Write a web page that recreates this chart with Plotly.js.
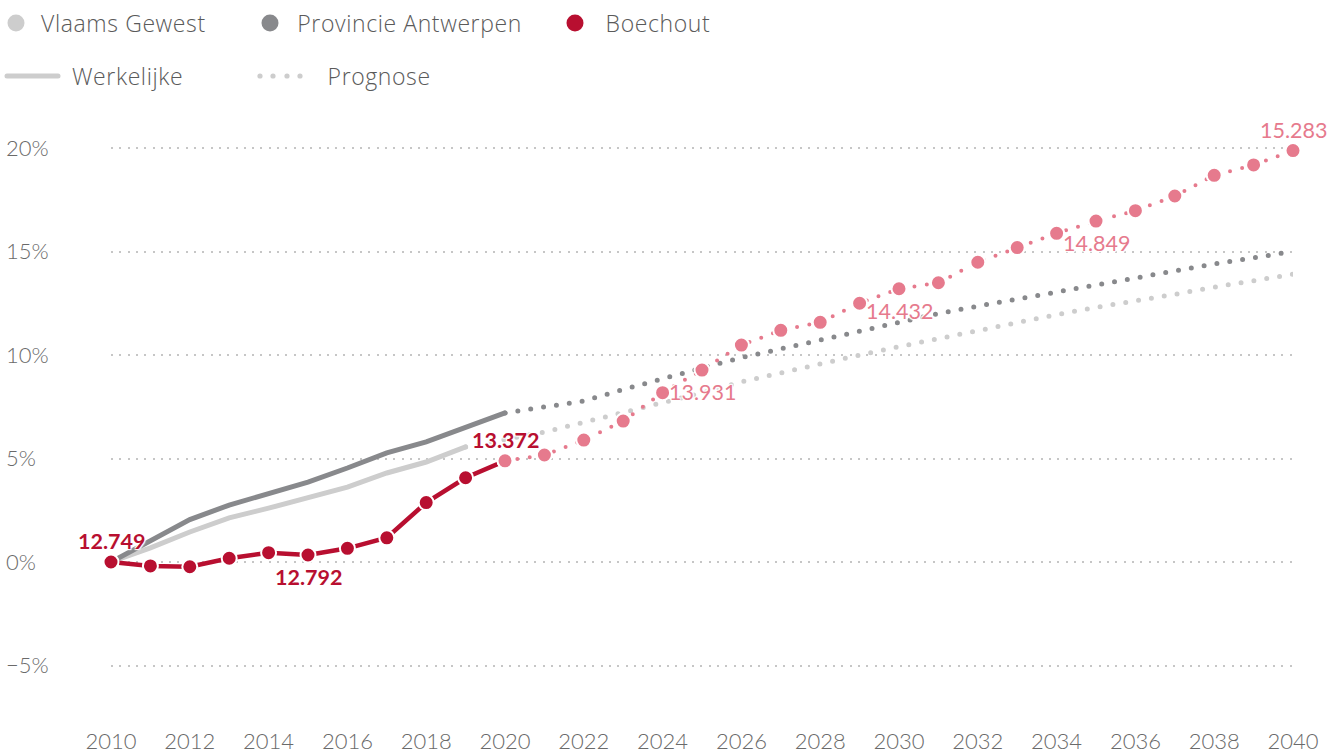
<!DOCTYPE html>
<html><head><meta charset="utf-8">
<script src="https://cdn.plot.ly/plotly-3.0.1.min.js"></script>
<style>html,body{margin:0;padding:0;background:#fff}#chart{width:1339px;height:754px}</style>
</head><body><div id="chart"></div>
<script>
// ---------- DATA ----------
const seriesNames = ['Vlaams Gewest', 'Provincie Antwerpen', 'Boechout'];
const styleNames = ['Werkelijke', 'Prognose'];

const vlaamsActualYears = [2010,2011,2012,2013,2014,2015,2016,2017,2018,2019];
const vlaamsActual = [0, 0.68, 1.45, 2.13, 2.6, 3.14, 3.62, 4.3, 4.83, 5.56];
const vlaamsPrognoseYears = [2019,2020,2021,2022,2023,2024,2025,2026,2027,2028,2029,2030,2031,2032,2033,2034,2035,2036,2037,2038,2039,2040];
const vlaamsPrognose = [5.56, 5.92, 6.28, 6.75, 7.22, 7.67, 8.17, 8.7, 9.14, 9.59, 10.0, 10.4, 10.8, 11.2, 11.6, 11.95, 12.3, 12.6, 12.93, 13.28, 13.57, 13.9];

const actualYears = [2010,2011,2012,2013,2014,2015,2016,2017,2018,2019,2020];
const prognoseYears = [2020,2021,2022,2023,2024,2025,2026,2027,2028,2029,2030,2031,2032,2033,2034,2035,2036,2037,2038,2039,2040];

const provActual = [0, 1.0, 2.05, 2.75, 3.29, 3.86, 4.54, 5.27, 5.80, 6.47, 7.20];
const provPrognose = [7.2, 7.5, 7.78, 8.33, 8.88, 9.37, 9.87, 10.3, 10.7, 11.13, 11.55, 12.0, 12.36, 12.7, 13.05, 13.4, 13.77, 14.1, 14.4, 14.7, 15.0];

const boechoutActual = [0, -0.19, -0.23, 0.18, 0.45, 0.337, 0.66, 1.17, 2.87, 4.07, 4.887];
const boechoutPrognose = [4.887, 5.17, 5.89, 6.81, 8.18, 9.271, 10.48, 11.19, 11.58, 12.5, 13.201, 13.49, 14.48, 15.19, 15.88, 16.472, 16.97, 17.68, 18.68, 19.18, 19.876];

// population labels for Boechout
const labelYears = [2010, 2015, 2020, 2025, 2030, 2035, 2040];
const labelTexts = ['12.749', '12.792', '13.372', '13.931', '14.432', '14.849', '15.283'];

const yTickVals = [-5, 0, 5, 10, 15, 20];
const yTickText = ['\u22125%', '0%', '5%', '10%', '15%', '20%'];
const xTickVals = [2010,2012,2014,2016,2018,2020,2022,2024,2026,2028,2030,2032,2034,2036,2038,2040];

// ---------- STYLE ----------
const C_LIGHT = '#cdcdcd', C_DARK = '#88898c', C_RED = '#b80f30', C_PINK = '#e67a8d';
const FONT = 'Lato, "Open Sans", sans-serif';
const LFONT = '"Open Sans", Lato, sans-serif';
const W = 1339, H = 754;
const M = {l: 2, r: 46, t: 127, b: 34};
const PW = W - M.l - M.r, PH = H - M.t - M.b;
const px = x => (x - M.l) / PW;
const py = y => (H - M.b - y) / PH;
const labelAbove = [true, false, true, false, false, false, true];
const labelActual = [true, true, true, false, false, false, false];

const traces = [
  {x: vlaamsPrognoseYears, y: vlaamsPrognose, mode: 'lines', line: {color: C_LIGHT, width: 5, dash: '0px,13px'}, cliponaxis: false},
  {x: prognoseYears, y: provPrognose, mode: 'lines', line: {color: C_DARK, width: 5, dash: '0px,13px'}, cliponaxis: false},
  {x: vlaamsActualYears, y: vlaamsActual, mode: 'lines', line: {color: C_LIGHT, width: 5}, cliponaxis: false},
  {x: actualYears, y: provActual, mode: 'lines', line: {color: C_DARK, width: 5}, cliponaxis: false},
  {x: actualYears, y: boechoutActual, mode: 'lines+markers', line: {color: C_RED, width: 4.5},
   marker: {color: C_RED, size: 15, line: {color: '#fff', width: 2}}, cliponaxis: false},
  {x: prognoseYears, y: boechoutPrognose, mode: 'lines+markers', line: {color: C_PINK, width: 4, dash: '0px,12.5px'},
   marker: {color: C_PINK, size: 15, line: {color: '#fff', width: 2}}, cliponaxis: false}
];

const halo = '1px 1px 1px #fff, -1px -1px 1px #fff, 1px -1px 1px #fff, -1px 1px 1px #fff, 0 0 3px #fff';
const annotations = labelYears.map((yr, i) => {
  const actIdx = actualYears.indexOf(yr);
  const yv = labelActual[i] ? boechoutActual[actIdx] : boechoutPrognose[prognoseYears.indexOf(yr)];
  return {
    x: yr, y: yv, xref: 'x', yref: 'y', text: labelTexts[i], showarrow: false,
    yshift: labelAbove[i] ? 21 : -22, xanchor: 'center', yanchor: 'middle',
    font: {family: FONT, size: 21.5, color: labelActual[i] ? C_RED : C_PINK, weight: labelActual[i] ? 700 : 400, shadow: halo}
  };
});

// legend (text)
const legendFont = {family: LFONT, size: 23, color: '#5a5a5a', weight: 300};
const legTextX = [43, 301, 606];
seriesNames.forEach((n, i) => annotations.push({xref: 'paper', yref: 'paper', x: px(legTextX[i]), y: py(23), xanchor: 'left', yanchor: 'middle', text: n, showarrow: false, font: legendFont}));
const legStyleX = [73, 328];
styleNames.forEach((n, i) => annotations.push({xref: 'paper', yref: 'paper', x: px(legStyleX[i]), y: py(76), xanchor: 'left', yanchor: 'middle', text: n, showarrow: false, font: legendFont}));

// legend (symbols)
const shapes = [];
const legCircleX = [16, 270, 575];
const legColors = [C_LIGHT, C_DARK, C_RED];
legCircleX.forEach((cx, i) => shapes.push({type: 'circle', xref: 'paper', yref: 'paper', x0: px(cx - 8.5), x1: px(cx + 8.5), y0: py(23 + 8.5), y1: py(23 - 8.5), fillcolor: legColors[i], line: {width: 0}}));
shapes.push({type: 'line', xref: 'paper', yref: 'paper', x0: px(7), x1: px(58), y0: py(76), y1: py(76), line: {color: C_LIGHT, width: 5}});
[260, 273, 287, 300].forEach(cx => shapes.push({type: 'circle', xref: 'paper', yref: 'paper', x0: px(cx - 2.6), x1: px(cx + 2.6), y0: py(76 + 2.6), y1: py(76 - 2.6), fillcolor: C_LIGHT, line: {width: 0}}));

const layout = {
  width: W, height: H, margin: M, paper_bgcolor: '#fff', plot_bgcolor: '#fff', showlegend: false,
  font: {family: FONT, color: '#6a6a6a'},
  xaxis: {domain: [px(111), 1], range: [2010, 2040], tickvals: xTickVals, showgrid: false, zeroline: false, showline: false,
          ticks: 'outside', ticklen: 2, tickcolor: 'rgba(0,0,0,0)', tickfont: {family: FONT, size: 22, color: '#6a6a6a', weight: 300}},
  yaxis: {anchor: 'free', position: 0, range: [-7.633, 21.0145], tickvals: yTickVals, ticktext: yTickText,
          ticklabelposition: 'inside', showgrid: true, gridcolor: '#c6c6c6', gridwidth: 2, griddash: '2px,6.3px',
          zeroline: false, showline: false, tickfont: {family: FONT, size: 22, color: '#6a6a6a', weight: 300}},
  annotations, shapes
};

Plotly.newPlot('chart', traces, layout, {staticPlot: true}).then(gd => {
  gd.querySelectorAll('.scatterlayer .js-line').forEach(p => p.style.strokeLinecap = 'round');
  gd.querySelectorAll('.shapelayer path').forEach(p => p.style.strokeLinecap = 'round');
  const legTexts = new Set(seriesNames.concat(styleNames));
  gd.querySelectorAll('.annotation-text').forEach(t => {
    if (legTexts.has(t.textContent)) t.style.letterSpacing = '0.6px';
  });
});
</script></body></html>
